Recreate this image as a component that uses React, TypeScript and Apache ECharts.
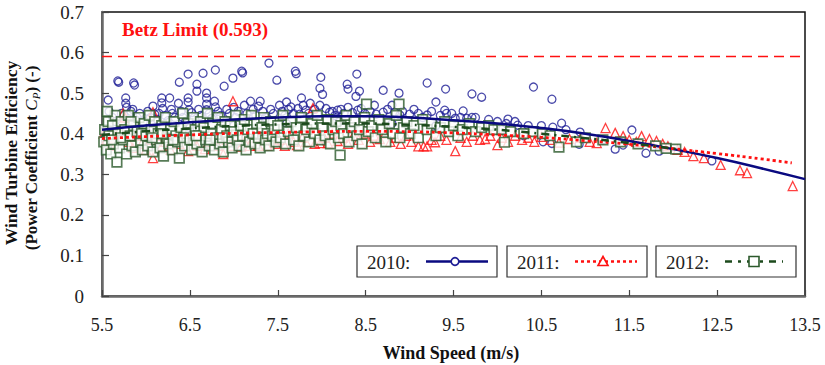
import React, { useEffect, useRef } from "react";
import * as echarts from "echarts";

// ---- data (wind speed m/s, power coefficient Cp) ----
const xOrigin = 5.5;
const xMaxValue = 13.5;
const yTickValues = [0, 0.1, 0.2, 0.3, 0.4, 0.5, 0.6, 0.7];
const betzLimit = 0.593;

const points2010: number[][] = [
  [5.57, 0.483], [5.68, 0.53], [5.69, 0.527], [5.86, 0.525], [5.87, 0.52], [5.77, 0.488], [5.77, 0.475], [5.78, 0.465],
  [5.85, 0.46], [6.08, 0.468], [6.18, 0.488], [6.27, 0.488], [6.18, 0.476], [6.19, 0.462], [6.29, 0.46], [6.37, 0.475],
  [6.38, 0.527], [6.48, 0.547], [6.65, 0.549], [6.79, 0.557], [6.58, 0.522], [6.58, 0.505], [6.48, 0.488], [6.48, 0.478],
  [6.49, 0.459], [6.69, 0.5], [6.69, 0.488], [6.69, 0.473], [6.69, 0.459], [6.78, 0.48], [6.79, 0.466], [6.89, 0.517],
  [6.99, 0.537], [7.09, 0.554], [7.1, 0.55], [7.19, 0.48], [7.3, 0.48], [7.4, 0.574], [7.49, 0.532], [7.7, 0.554],
  [7.71, 0.548], [7.52, 0.47], [7.6, 0.478], [7.65, 0.466], [7.79, 0.47], [7.99, 0.539], [8.4, 0.547], [8.29, 0.522],
  [8.3, 0.51], [7.98, 0.512], [8.01, 0.497], [8.43, 0.505], [8.39, 0.492], [8.7, 0.507], [8.88, 0.5], [9.2, 0.525],
  [9.41, 0.51], [9.3, 0.478], [9.71, 0.498], [9.82, 0.49], [9.61, 0.456], [10.41, 0.515], [10.62, 0.485], [10.73, 0.426],
  [10.94, 0.404], [10.52, 0.38], [10.62, 0.376], [10.93, 0.374], [11.34, 0.362], [11.43, 0.372], [11.53, 0.409],
  [11.69, 0.352], [11.84, 0.357], [12.44, 0.333], [7.77, 0.488], [7.87, 0.475], [7.98, 0.47], [8.09, 0.453],
  [8.18, 0.458], [8.3, 0.465], [8.41, 0.458], [8.49, 0.45], [8.6, 0.47], [8.7, 0.453], [8.8, 0.47], [8.83, 0.453],
  [9.4, 0.458], [9.42, 0.45], [9.52, 0.438], [9.65, 0.438], [9.71, 0.44], [9.75, 0.44], [8.89, 0.446], [9.2, 0.446],
  [10.12, 0.436], [10.23, 0.421], [10.63, 0.416],
  [5.58, 0.455], [5.62, 0.44], [5.65, 0.43], [5.72, 0.45], [5.75, 0.445], [5.8, 0.43], [5.83, 0.455], [5.9, 0.44],
  [5.93, 0.45], [5.97, 0.43], [6.02, 0.455], [6.05, 0.44], [6.1, 0.448], [6.13, 0.435], [6.15, 0.45], [6.22, 0.445],
  [6.25, 0.432], [6.3, 0.45], [6.33, 0.44], [6.4, 0.455], [6.42, 0.44], [6.45, 0.43], [6.52, 0.452], [6.55, 0.44],
  [6.6, 0.46], [6.62, 0.445], [6.72, 0.45], [6.75, 0.438], [6.82, 0.455], [6.85, 0.445], [6.92, 0.46], [6.95, 0.45],
  [7.0, 0.465], [7.02, 0.44], [7.05, 0.455], [7.12, 0.47], [7.15, 0.45], [7.22, 0.46], [7.25, 0.445], [7.28, 0.468],
  [7.33, 0.455], [7.36, 0.44], [7.42, 0.46], [7.45, 0.45], [7.55, 0.455], [7.58, 0.445], [7.62, 0.46], [7.68, 0.45],
  [7.73, 0.462], [7.75, 0.448], [7.82, 0.458], [7.85, 0.45], [7.92, 0.46], [7.95, 0.448], [8.05, 0.462], [8.12, 0.455],
  [8.15, 0.445], [8.22, 0.46], [8.25, 0.45], [8.35, 0.452], [8.45, 0.462], [8.55, 0.455], [8.62, 0.448], [8.75, 0.46],
  [8.92, 0.455], [9.0, 0.448], [9.05, 0.46], [9.1, 0.45], [9.15, 0.44], [9.25, 0.455], [9.35, 0.445], [9.48, 0.45],
  [9.58, 0.44], [9.9, 0.435], [10.0, 0.43], [10.1, 0.425], [10.2, 0.43], [10.35, 0.42], [10.5, 0.42], [10.78, 0.41],
  [6.0, 0.41], [6.5, 0.415], [7.0, 0.42], [7.6, 0.425], [8.2, 0.43], [8.8, 0.425], [9.3, 0.42], [10.05, 0.41],
  [10.3, 0.395], [11.0, 0.39], [11.2, 0.385],
];

const points2011: number[][] = [
  [5.52, 0.4], [5.55, 0.385], [5.6, 0.37], [5.65, 0.39], [5.7, 0.41], [5.74, 0.45], [5.76, 0.44], [5.8, 0.38],
  [5.85, 0.365], [5.9, 0.395], [5.95, 0.375], [6.0, 0.36], [6.05, 0.385], [6.08, 0.453], [6.08, 0.34], [6.12, 0.395],
  [6.18, 0.37], [6.22, 0.38], [6.28, 0.36], [6.32, 0.39], [6.38, 0.375], [6.42, 0.4], [6.48, 0.357], [6.52, 0.385],
  [6.58, 0.37], [6.62, 0.395], [6.67, 0.362], [6.72, 0.38], [6.78, 0.39], [6.82, 0.37], [6.88, 0.35], [6.92, 0.385],
  [6.99, 0.48], [6.98, 0.37], [7.03, 0.395], [7.08, 0.368], [7.12, 0.38], [7.18, 0.37], [7.22, 0.39], [7.28, 0.37],
  [7.32, 0.385], [7.38, 0.37], [7.42, 0.395], [7.48, 0.375], [7.52, 0.385], [7.58, 0.37], [7.62, 0.4], [7.68, 0.38],
  [7.72, 0.372], [7.78, 0.39], [7.82, 0.38], [7.9, 0.463], [7.92, 0.375], [7.98, 0.377], [8.03, 0.39], [8.07, 0.377],
  [8.12, 0.4], [8.18, 0.382], [8.24, 0.39], [8.3, 0.375], [8.36, 0.395], [8.42, 0.385], [8.48, 0.4], [8.55, 0.38],
  [8.6, 0.395], [8.66, 0.387], [8.72, 0.4], [8.78, 0.38], [8.84, 0.39], [8.9, 0.375], [8.96, 0.395], [9.02, 0.38],
  [9.1, 0.369], [9.16, 0.369], [9.2, 0.369], [9.25, 0.385], [9.29, 0.379], [9.35, 0.395], [9.42, 0.385], [9.52, 0.357],
  [9.58, 0.39], [9.65, 0.38], [9.72, 0.395], [9.8, 0.385], [9.86, 0.387], [9.92, 0.395], [10.0, 0.372], [10.05, 0.39],
  [10.12, 0.38], [10.2, 0.395], [10.28, 0.385], [10.35, 0.39], [10.42, 0.38], [10.5, 0.392], [10.6, 0.385], [10.7, 0.378],
  [10.82, 0.387], [10.95, 0.39], [11.05, 0.38], [11.13, 0.377], [11.23, 0.414], [11.34, 0.402], [11.43, 0.394],
  [11.5, 0.385], [11.58, 0.38], [11.64, 0.394], [11.73, 0.387], [11.81, 0.382], [11.88, 0.375], [11.94, 0.369],
  [12.05, 0.36], [12.13, 0.355], [12.23, 0.345], [12.35, 0.34], [12.54, 0.323], [12.76, 0.31], [12.84, 0.303],
  [13.36, 0.271],
];

const points2012: number[][] = [
  [5.52, 0.38], [5.53, 0.41], [5.55, 0.36], [5.57, 0.43], [5.58, 0.395], [5.6, 0.35], [5.62, 0.42], [5.63, 0.375],
  [5.65, 0.445], [5.67, 0.33], [5.68, 0.4], [5.7, 0.365], [5.72, 0.43], [5.74, 0.385], [5.76, 0.41], [5.78, 0.35],
  [5.8, 0.445], [5.82, 0.395], [5.84, 0.37], [5.86, 0.42], [5.88, 0.355], [5.9, 0.405], [5.92, 0.44], [5.94, 0.38],
  [5.96, 0.36], [5.98, 0.425], [5.56, 0.455], [5.71, 0.39], [5.83, 0.43], [5.95, 0.4], [5.61, 0.385],
  [6.0, 0.395], [6.02, 0.37], [6.04, 0.445], [6.06, 0.41], [6.08, 0.355], [6.1, 0.43], [6.12, 0.385], [6.14, 0.4],
  [6.16, 0.365], [6.18, 0.42], [6.2, 0.345], [6.22, 0.44], [6.24, 0.39], [6.26, 0.375], [6.28, 0.41], [6.3, 0.36],
  [6.32, 0.43], [6.34, 0.395], [6.36, 0.38], [6.38, 0.34], [6.4, 0.415], [6.42, 0.45], [6.44, 0.37], [6.46, 0.4],
  [6.48, 0.425], [6.07, 0.39], [6.19, 0.4], [6.31, 0.385], [6.43, 0.39],
  [6.5, 0.385], [6.52, 0.36], [6.54, 0.44], [6.56, 0.41], [6.58, 0.375], [6.6, 0.395], [6.62, 0.43], [6.64, 0.355],
  [6.66, 0.415], [6.68, 0.385], [6.7, 0.45], [6.72, 0.37], [6.74, 0.4], [6.76, 0.425], [6.78, 0.36], [6.8, 0.39],
  [6.82, 0.44], [6.84, 0.375], [6.86, 0.41], [6.88, 0.355], [6.9, 0.43], [6.92, 0.395], [6.94, 0.38], [6.96, 0.42],
  [6.98, 0.365], [6.57, 0.395], [6.73, 0.385], [6.87, 0.39],
  [7.0, 0.405], [7.02, 0.445], [7.04, 0.385], [7.06, 0.37], [7.08, 0.42], [7.1, 0.395], [7.12, 0.435], [7.14, 0.36],
  [7.16, 0.41], [7.18, 0.38], [7.2, 0.445], [7.22, 0.4], [7.24, 0.375], [7.26, 0.425], [7.28, 0.39], [7.3, 0.365],
  [7.32, 0.415], [7.34, 0.44], [7.36, 0.385], [7.38, 0.4], [7.4, 0.37], [7.42, 0.43], [7.44, 0.395], [7.46, 0.41],
  [7.48, 0.38],
  [7.5, 0.42], [7.53, 0.39], [7.56, 0.445], [7.59, 0.375], [7.62, 0.405], [7.65, 0.43], [7.68, 0.385], [7.71, 0.415],
  [7.74, 0.37], [7.77, 0.44], [7.8, 0.395], [7.83, 0.41], [7.86, 0.38], [7.89, 0.425], [7.92, 0.4], [7.95, 0.445],
  [7.98, 0.385],
  [8.01, 0.415], [8.04, 0.395], [8.07, 0.435], [8.1, 0.375], [8.13, 0.41], [8.16, 0.43], [8.19, 0.39], [8.21, 0.347],
  [8.22, 0.42], [8.25, 0.4], [8.28, 0.445], [8.31, 0.38], [8.34, 0.415], [8.37, 0.43], [8.4, 0.395], [8.43, 0.41],
  [8.46, 0.375], [8.49, 0.44], [8.51, 0.473],
  [8.53, 0.405], [8.57, 0.42], [8.61, 0.39], [8.65, 0.435], [8.69, 0.41], [8.73, 0.38], [8.77, 0.425], [8.81, 0.4],
  [8.85, 0.445], [8.88, 0.473], [8.89, 0.39], [8.93, 0.415], [8.97, 0.43],
  [9.01, 0.4], [9.05, 0.42], [9.1, 0.39], [9.15, 0.435], [9.2, 0.41], [9.25, 0.425], [9.3, 0.395], [9.35, 0.415],
  [9.4, 0.43], [9.45, 0.405], [9.5, 0.42], [9.55, 0.395], [9.6, 0.41],
  [9.68, 0.425], [9.75, 0.405], [9.82, 0.415], [9.9, 0.42], [9.96, 0.41], [10.05, 0.41], [10.08, 0.379], [10.15, 0.405],
  [10.3, 0.4], [10.41, 0.405], [10.51, 0.4], [10.6, 0.395], [10.7, 0.367], [10.9, 0.38], [11.0, 0.39], [11.2, 0.385],
  [11.4, 0.38], [11.6, 0.375], [11.8, 0.37], [11.92, 0.364], [12.03, 0.362],
];

// fitted trend curves
const trend2010: number[][] = [
  [5.5, 0.41], [6.0, 0.42], [6.5, 0.428], [7.0, 0.435], [7.5, 0.44], [8.0, 0.443], [8.5, 0.443], [9.0, 0.44],
  [9.5, 0.433], [10.0, 0.425], [10.5, 0.414], [11.0, 0.4], [11.5, 0.382], [12.0, 0.362], [12.5, 0.34], [13.0, 0.315],
  [13.5, 0.288],
];
const trend2011: number[][] = [
  [5.5, 0.388], [6.0, 0.393], [6.5, 0.397], [7.0, 0.401], [7.5, 0.403], [8.0, 0.405], [8.5, 0.406], [9.0, 0.405],
  [9.5, 0.402], [10.0, 0.397], [10.5, 0.391], [11.0, 0.383], [11.5, 0.374], [12.0, 0.363], [12.5, 0.351],
  [13.0, 0.338], [13.35, 0.328],
];
const trend2012: number[][] = [
  [5.5, 0.397], [6.0, 0.406], [6.5, 0.413], [7.0, 0.419], [7.5, 0.423], [8.0, 0.425], [8.5, 0.425], [9.0, 0.422],
  [9.5, 0.417], [10.0, 0.41], [10.5, 0.4], [11.0, 0.389], [11.5, 0.377], [12.05, 0.362],
];

const legendLabels = ["2010:", "2011:", "2012:"];

const BLUE = "#1f1f96";
const BLUE_LINE = "#0a0a80";
const RED = "#ff1010";
const GREEN = "#2c5a2c";
const GREEN_LINE = "#1c4a1c";
const SERIF = "'Liberation Serif', 'Times New Roman', serif";

const shift = (pts: number[][]) => pts.map(([v, c]) => [v - xOrigin, c]);

export default function App() {
  const ref = useRef<HTMLDivElement>(null);

  useEffect(() => {
    if (!ref.current) return;
    const chart = echarts.init(ref.current, undefined, { renderer: "svg" });

    const legendY = 246;
    const legendH = 31;
    const boxes = [357, 507, 656];
    const legendGraphics: any[] = [];
    boxes.forEach((bx, i) => {
      legendGraphics.push({
        type: "rect",
        shape: { x: bx, y: legendY, width: 140, height: legendH },
        style: { fill: "#fff", stroke: "#333", lineWidth: 1.2 },
        z: 100,
      });
      legendGraphics.push({
        type: "text",
        x: bx + 10,
        y: legendY + legendH / 2 + 1,
        style: {
          text: legendLabels[i],
          font: `19px ${SERIF}`,
          fill: "#222",
          verticalAlign: "middle",
          align: "left",
        },
        z: 101,
      });
    });
    const ly = legendY + legendH / 2;
    legendGraphics.push({
      type: "line",
      shape: { x1: 426, y1: ly, x2: 488, y2: ly },
      style: { stroke: BLUE_LINE, lineWidth: 2.5 },
      z: 101,
    });
    legendGraphics.push({
      type: "circle",
      shape: { cx: 455, cy: ly, r: 3.8 },
      style: { stroke: BLUE, fill: "#fff", lineWidth: 1.6 },
      z: 102,
    });
    legendGraphics.push({
      type: "line",
      shape: { x1: 575, y1: ly, x2: 637, y2: ly },
      style: { stroke: RED, lineWidth: 2.5, lineDash: [3, 3] },
      z: 101,
    });
    legendGraphics.push({
      type: "polygon",
      shape: { points: [[603, ly - 5], [598, ly + 4], [608, ly + 4]] },
      style: { stroke: RED, fill: "#fff", lineWidth: 1.6 },
      z: 102,
    });
    legendGraphics.push({
      type: "line",
      shape: { x1: 725, y1: ly, x2: 783, y2: ly },
      style: { stroke: GREEN_LINE, lineWidth: 2.5, lineDash: [7, 6, 3, 6] },
      z: 101,
    });
    legendGraphics.push({
      type: "rect",
      shape: { x: 749, y: ly - 5, width: 10, height: 10 },
      style: { stroke: GREEN, fill: "#fff", lineWidth: 1.6 },
      z: 102,
    });

    const option: any = {
      animation: false,
      backgroundColor: "#fff",
      grid: {
        left: 102,
        right: 20,
        top: 12,
        bottom: 69,
        show: true,
        borderColor: "#111",
        borderWidth: 1.5,
        backgroundColor: "transparent",
      },
      xAxis: {
        type: "value",
        min: 0,
        max: xMaxValue - xOrigin,
        interval: 1,
        axisLine: { show: true, onZero: false, lineStyle: { color: "#6a6a6a", width: 2.5 } },
        axisTick: { show: true, inside: true, length: 6, lineStyle: { color: "#444", width: 1.2 } },
        splitLine: { show: false },
        axisLabel: {
          margin: 20,
          fontFamily: SERIF,
          fontSize: 18,
          color: "#222",
          formatter: (v: number) => (v + xOrigin).toFixed(1),
        },
      },
      yAxis: {
        type: "value",
        min: yTickValues[0],
        max: yTickValues[yTickValues.length - 1],
        interval: 0.1,
        axisLine: { show: true, lineStyle: { color: "#6a6a6a", width: 2.5 } },
        axisTick: { show: true, inside: true, length: 7, lineStyle: { color: "#444", width: 1.2 } },
        splitLine: { show: false },
        axisLabel: {
          margin: 18,
          fontFamily: SERIF,
          fontSize: 19,
          color: "#222",
          formatter: (v: number) => (v === 0 ? "0" : v.toFixed(1)),
        },
      },
      series: [
        {
          name: "2010",
          type: "scatter",
          data: shift(points2010),
          symbol: "circle",
          symbolSize: 8,
          itemStyle: { color: "rgba(0,0,0,0)", borderColor: BLUE, borderWidth: 1.3 },
          markLine: {
            silent: true,
            symbol: ["none", "none"],
            label: { show: false },
            lineStyle: { color: RED, type: [10, 6], width: 1.3 },
            data: [{ yAxis: betzLimit }],
          },
          z: 2,
        },
        {
          name: "2011",
          type: "scatter",
          data: shift(points2011),
          symbol: "triangle",
          symbolSize: 9,
          itemStyle: { color: "rgba(0,0,0,0)", borderColor: RED, borderWidth: 1.3 },
          z: 3,
        },
        {
          name: "2012",
          type: "scatter",
          data: shift(points2012),
          symbol: "rect",
          symbolSize: 9.5,
          itemStyle: { color: "#fff", borderColor: GREEN, borderWidth: 1.7 },
          z: 4,
        },
        {
          name: "2010 fit",
          type: "line",
          data: shift(trend2010),
          smooth: true,
          symbol: "none",
          lineStyle: { color: BLUE_LINE, width: 2.5 },
          z: 6,
        },
        {
          name: "2011 fit",
          type: "line",
          data: shift(trend2011),
          smooth: true,
          symbol: "none",
          lineStyle: { color: RED, width: 2.8, type: [3, 3] },
          z: 6,
        },
        {
          name: "2012 fit",
          type: "line",
          data: shift(trend2012),
          smooth: true,
          symbol: "none",
          lineStyle: { color: GREEN_LINE, width: 2.5, type: [8, 5, 2, 5] },
          z: 6,
        },
      ],
      graphic: [
        {
          type: "text",
          x: 122,
          y: 29,
          style: {
            text: "Betz Limit (0.593)",
            font: `bold 19px ${SERIF}`,
            fill: RED,
            align: "left",
            verticalAlign: "middle",
          },
        },
        {
          type: "text",
          x: 451,
          y: 353,
          style: {
            text: "Wind Speed (m/s)",
            font: `bold 18px ${SERIF}`,
            fill: "#111",
            align: "center",
            verticalAlign: "middle",
          },
        },
        {
          type: "text",
          x: 11,
          y: 153,
          rotation: Math.PI / 2,
          style: {
            text: "Wind Turbine Efficiency",
            font: `bold 17.5px ${SERIF}`,
            fill: "#111",
            align: "center",
            verticalAlign: "middle",
          },
        },
        {
          type: "text",
          x: 31,
          y: 158,
          rotation: Math.PI / 2,
          style: {
            text: "{a|(Power Coefficient }{i|C}{s|P}{a|) (-)}",
            align: "center",
            verticalAlign: "middle",
            rich: {
              a: { font: `bold 17px ${SERIF}`, fill: "#111", lineHeight: 20 },
              i: { font: `italic 17px ${SERIF}`, fill: "#111", lineHeight: 20 },
              s: { font: `italic 11px ${SERIF}`, fill: "#111", lineHeight: 20, verticalAlign: "bottom", padding: [6, 0, 0, 0] },
            },
          },
        },
        ...legendGraphics,
      ],
    };

    chart.setOption(option);
    return () => chart.dispose();
  }, []);

  return (
    <div
      ref={ref}
      style={{ position: "fixed", left: 0, top: 0, width: 825, height: 365, background: "#fff" }}
    />
  );
}
